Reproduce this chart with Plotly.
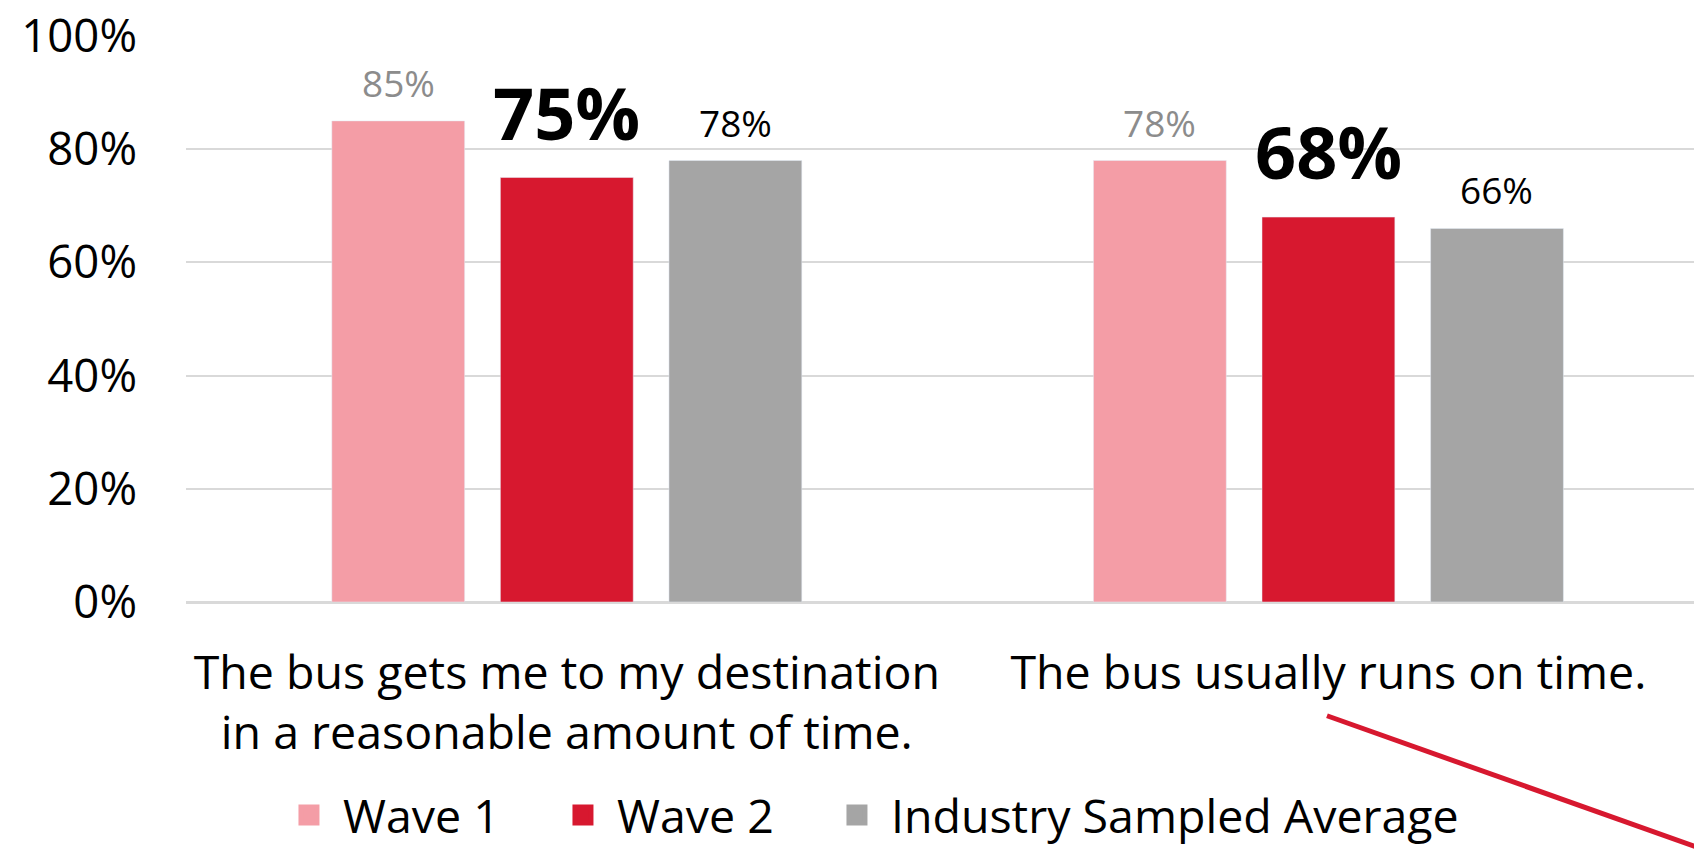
import plotly.graph_objects as go

categories = [
    "The bus gets me to my destination<br>in a reasonable amount of time.",
    "The bus usually runs on time.",
]
wave1 = [0.85, 0.78]
wave2 = [0.75, 0.68]
industry = [0.78, 0.66]

series_names = ["Wave 1", "Wave 2", "Industry Sampled Average"]
colors = ["#F49DA6", "#D7182F", "#A5A5A5"]
legend_widths = [201, 201, 600]

FONT = "Open Sans"
BARGAP = 0.336
X_RANGE = [-0.5, 1.48]
PLOT_W = 1694 - 186

fig = go.Figure()

for name, vals, c in zip(series_names, [wave1, wave2, industry], colors):
    fig.add_trace(go.Bar(x=categories, y=vals, name=name, marker_color=c, showlegend=False))

# value labels above bars (annotations so the gap above the bar can be tuned)
slot = PLOT_W / (X_RANGE[1] - X_RANGE[0]) * (1 - BARGAP) / 3
label_styles = [
    dict(size=37, color="#8C8C8C", bold=False, lift=11),
    dict(size=72, color="#000000", bold=True, lift=15),
    dict(size=37, color="#000000", bold=False, lift=11),
]
for j, (vals, st) in enumerate(zip([wave1, wave2, industry], label_styles)):
    for cat, v in zip(categories, vals):
        txt = f"{v:.0%}"
        fig.add_annotation(
            x=cat, y=v, xref="x", yref="y",
            text=f"<b>{txt}</b>" if st["bold"] else txt,
            showarrow=False, yanchor="bottom", xanchor="center",
            xshift=(j - 1) * slot, yshift=st["lift"],
            font=dict(family=FONT, size=st["size"], color=st["color"]),
        )

# legend entries with bigger square swatches
for name, c, lw in zip(series_names, colors, legend_widths):
    fig.add_trace(go.Scatter(
        x=[None], y=[None], mode="markers", name=name, legendwidth=lw,
        marker=dict(symbol="square", size=16, color=c, line=dict(color=c, width=5)),
    ))

# red callout line running off the bottom right
fig.add_shape(
    type="line", xref="paper", yref="paper",
    x0=0.7566, y0=-0.201, x1=1.005, y1=-0.436,
    line=dict(color="#D7182F", width=5),
)

fig.update_layout(
    width=1694, height=849,
    margin=dict(l=186, r=0, t=36, b=247, autoexpand=False),
    paper_bgcolor="white", plot_bgcolor="white",
    font=dict(family=FONT, size=46, color="#000000"),
    barmode="group", bargap=BARGAP, bargroupgap=0.212,
    legend=dict(
        orientation="h", x=0.059, xanchor="left", y=-0.377, yanchor="middle",
        font=dict(family=FONT, size=46.5, color="#000000"),
        bgcolor="rgba(0,0,0,0)", itemwidth=58,
    ),
    xaxis=dict(
        range=X_RANGE, showgrid=False, showline=False, zeroline=False,
        ticks="", tickfont=dict(size=46.5), ticklabelstandoff=39, automargin=False,
    ),
    yaxis=dict(
        range=[0, 1], tickformat=".0%", dtick=0.2,
        showgrid=True, gridcolor="#D9D9D9", gridwidth=2,
        zeroline=True, zerolinecolor="#D9D9D9", zerolinewidth=3,
        showline=False, ticks="", tickfont=dict(size=45.5), ticklabelstandoff=48,
        automargin=False,
    ),
)

# drop the default page margin so the figure fills the window exactly
fig.write_html(
    "out.html",
    config={"displayModeBar": False},
    post_script="document.body.style.margin='0';",
)
